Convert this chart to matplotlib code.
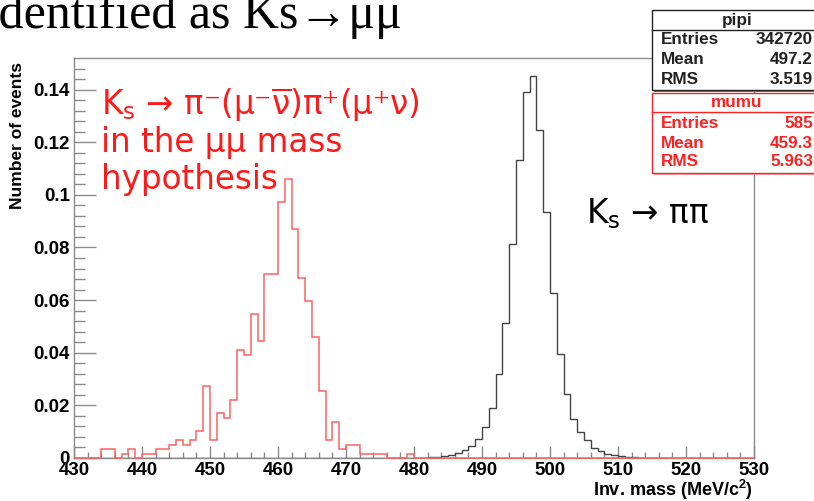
import numpy as np
import matplotlib
matplotlib.use("Agg")
import matplotlib.pyplot as plt
from matplotlib.patches import Rectangle

# ---- data: normalised 1 MeV bins between 430 and 530 MeV/c^2 ----
bin_lo = 430
bin_hi = 530

# mumu hypothesis: event counts per bin (first bin 430 MeV), normalised by entries
mumu_entries = 585
mumu_counts = [0, 0, 0, 0, 2, 2, 0, 1, 2, 0,      # 430-439
               1, 1, 2, 2, 3, 4, 3, 4, 6, 16,     # 440-449
               4, 10, 9, 13, 24, 23, 32, 26, 41, 41,  # 450-459
               57, 62, 51, 40, 35, 27, 15, 4, 8, 2,   # 460-469
               3, 3, 1, 1, 1, 1, 0, 0, 0, 1]          # 470-479

# pipi hypothesis: normalised content per bin, starting at 480 MeV
pipi_start = 480
pipi_frac = [0.0000, 0.0001, 0.0003, 0.0005, 0.0008, 0.0013, 0.0019, 0.0029, 0.0046, 0.0071,  # 480-489
             0.0118, 0.0190, 0.0318, 0.0513, 0.0815, 0.1134, 0.1391, 0.1452, 0.1246, 0.0933,  # 490-499
             0.0627, 0.0397, 0.0242, 0.0150, 0.0099, 0.0067, 0.0038, 0.0025, 0.0017, 0.0011,  # 500-509
             0.0007, 0.0004, 0.0002, 0.0001]                                                 # 510-513

pipi_stats = [("Entries", "342720"), ("Mean", "497.2"), ("RMS", "3.519")]
mumu_stats = [("Entries", "585"), ("Mean", "459.3"), ("RMS", "5.963")]

x_label = "Inv. mass (MeV/c$^{2}$)"
y_label = "Number of events"

# ---- build full histograms ----
edges = np.arange(bin_lo, bin_hi + 1)
nb = len(edges) - 1
mumu = np.zeros(nb)
mumu[:len(mumu_counts)] = np.array(mumu_counts) / mumu_entries
pipi = np.zeros(nb)
i0 = pipi_start - bin_lo
pipi[i0:i0 + len(pipi_frac)] = pipi_frac

W, H = 814, 501
fig = plt.figure(figsize=(W / 100, H / 100), dpi=100)
plt.rcParams['mathtext.fontset'] = 'dejavusans'
plt.rcParams['mathtext.default'] = 'regular'


def fx(x):
    return x / W


def fy(y):
    return 1 - y / H


ax_l, ax_r, ax_t, ax_b = 74, 754, 58, 458
ax = fig.add_axes([fx(ax_l), fy(ax_b), (ax_r - ax_l) / W, (ax_b - ax_t) / H])

ax.stairs(pipi, edges, color="#444444", linewidth=1.0, baseline=None, zorder=3)
ax.stairs(mumu, edges, color="#ff6262", linewidth=1.1, baseline=None, zorder=4, clip_on=False)

ax.set_xlim(bin_lo, bin_hi)
ax.set_ylim(0, 0.152)

frame_col = "#8a8a8a"
for s in ax.spines.values():
    s.set_color(frame_col)
    s.set_linewidth(1.0)

tick_font = dict(family="Liberation Sans", weight="bold", size=13.5)
ax.set_xticks(np.arange(430, 531, 10))
ax.set_xticks(np.arange(430, 531, 2), minor=True)
ax.set_yticks(np.arange(0, 0.141, 0.02))
ax.set_yticks(np.arange(0, 0.152, 0.004), minor=True)
ax.set_yticklabels(["%g" % round(v, 2) for v in np.arange(0, 0.141, 0.02)], fontdict=tick_font)
ax.set_xticklabels([str(v) for v in range(430, 531, 10)], fontdict=tick_font)
ax.tick_params(axis="both", which="both", direction="in", color=frame_col, width=1.0)
ax.tick_params(axis="y", which="major", length=16, pad=3)
ax.tick_params(axis="y", which="minor", length=8)
ax.tick_params(axis="x", which="major", length=8.5, pad=3)
ax.tick_params(axis="x", which="minor", length=4.3)

# axis titles (ROOT style: aligned at the far ends)
fig.text(fx(753), fy(496), x_label, ha="right", va="baseline",
         family="Liberation Sans", weight="bold", size=13)
fig.text(fx(18), fy(62), y_label, ha="center", va="top", rotation=90,
         family="Liberation Sans", weight="bold", size=12.5)

# annotations
red_lines = [r"$K_s$ → π⁻(μ⁻$\overline{ν}$)π⁺(μ⁺ν)", "in the μμ mass", "hypothesis"]
for k, line in enumerate(red_lines):
    fig.text(fx(101), fy(115 + 37 * k), line, color="#ff1a1a", ha="left", va="baseline",
             family="DejaVu Sans", size=23.5)
fig.text(fx(586), fy(223), r"$K_s$ → ππ", color="black", ha="left", va="baseline",
         family="DejaVu Sans", size=23.5)

# slide heading fragment above the plot
fig.text(fx(-18), fy(28), "Identified as Ks→μμ", ha="left", va="baseline",
         family="Liberation Serif", size=36)


# stats boxes
def stat_box(top, bottom, sep, title, rows, col, shadow, row_y):
    left, right = 652, 822
    fig.add_artist(Rectangle((fx(left + 2), fy(bottom + 2)), (right - left) / W, (bottom - top) / H,
                             transform=fig.transFigure, facecolor=shadow, edgecolor="none", zorder=9))
    fig.add_artist(Rectangle((fx(left), fy(bottom)), (right - left) / W, (bottom - top) / H,
                             transform=fig.transFigure, facecolor="white", edgecolor=col,
                             linewidth=1.0, zorder=10))
    fig.add_artist(plt.Line2D([fx(left), fx(right)], [fy(sep), fy(sep)], transform=fig.transFigure,
                              color=col, linewidth=1.0, zorder=11))
    fig.text(fx(737), fy((top + sep) / 2), title, ha="center", va="center", color=col,
             family="Liberation Sans", weight="bold", size=12.3, zorder=12)
    for (name, val), yy in zip(rows, row_y):
        fig.text(fx(661), fy(yy), name, ha="left", va="center", color=col,
                 family="Liberation Sans", weight="bold", size=12.3, zorder=12)
        fig.text(fx(813), fy(yy), val, ha="right", va="center", color=col,
                 family="Liberation Sans", weight="bold", size=12.3, zorder=12)


stat_box(10, 90, 30, "pipi", pipi_stats, "#222222", "#777777", [40, 60, 80])
stat_box(93, 173, 112, "mumu", mumu_stats, "#ff2020", "#ffaaaa", [123, 143, 162])

fig.savefig("out.png", dpi=100)
